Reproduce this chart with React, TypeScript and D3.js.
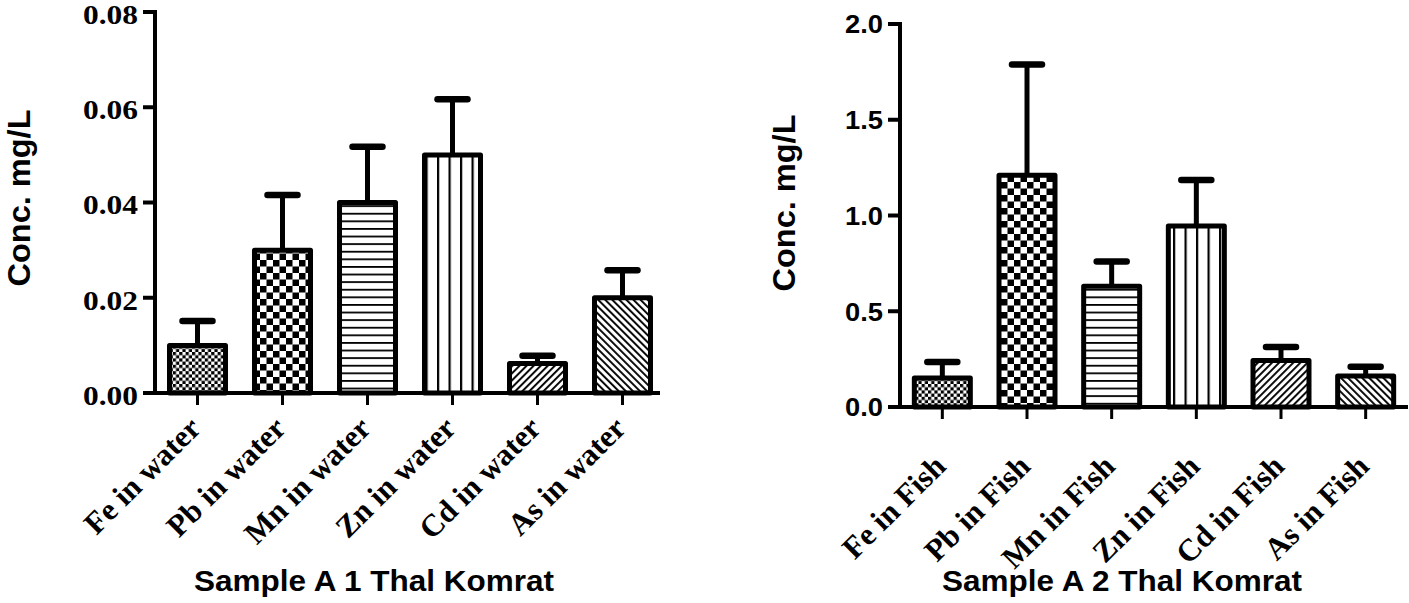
import React from "react";
import * as d3 from "d3";

const waterCategories = ["Fe in water", "Pb in water", "Mn in water", "Zn in water", "Cd in water", "As in water"];
const waterMeans = [0.01, 0.03, 0.04, 0.05, 0.0062, 0.02];
const waterErrors = [0.0051, 0.0116, 0.0117, 0.0117, 0.0016, 0.0058];
const waterTicks = [0, 0.02, 0.04, 0.06, 0.08];

const fishCategories = ["Fe in Fish", "Pb in Fish", "Mn in Fish", "Zn in Fish", "Cd in Fish", "As in Fish"];
const fishMeans = [0.152, 1.21, 0.63, 0.945, 0.243, 0.162];
const fishErrors = [0.083, 0.578, 0.13, 0.24, 0.07, 0.048];
const fishTicks = [0, 0.5, 1.0, 1.5, 2.0];

const patternIds = ["fineChecker", "bigChecker", "hLines", "vLines", "diagUp", "diagDown"];

const SERIF = "'Liberation Serif', 'Times New Roman', serif";
const SANS = "'Liberation Sans', Arial, sans-serif";

type PanelProps = {
  categories: string[];
  means: number[];
  errors: number[];
  ticks: number[];
  yMax: number;
  axisX: number;
  rangeEnd: number;
  axisEnd: number;
  yTop: number;
  yBottom: number;
  tickFormat: (v: number) => string;
  tickFont: string;
  tickFontSize: number;
  tickTextLength?: number;
  tickDy: string;
  labelY: number;
  yTitleX: number;
  yTitleY: number;
  title: string;
  titleX: number;
};

function Panel(p: PanelProps) {
  const x = d3.scaleBand<string>().domain(p.categories).range([p.axisX, p.rangeEnd]).paddingInner(0).paddingOuter(0);
  const y = d3.scaleLinear().domain([0, p.yMax]).range([p.yBottom, p.yTop]);
  const barW = 56;
  const tickLen = 12;
  return (
    <g>
      {p.categories.map((c, i) => {
        const cx = (x(c) as number) + x.bandwidth() / 2;
        const top = y(p.means[i]);
        const errTop = y(p.means[i] + p.errors[i]);
        return (
          <g key={c}>
            <line x1={cx} x2={cx} y1={top} y2={errTop} stroke="#000" strokeWidth={5} />
            <line x1={cx - 15} x2={cx + 15} y1={errTop} y2={errTop} stroke="#000" strokeWidth={6.5} strokeLinecap="round" />
            <rect
              x={cx - barW / 2}
              y={top}
              width={barW}
              height={y(0) - top}
              fill={`url(#${patternIds[i]})`}
              stroke="#000"
              strokeWidth={5}
              strokeLinejoin="round"
            />
            <line x1={cx} x2={cx} y1={p.yBottom} y2={p.yBottom + tickLen} stroke="#000" strokeWidth={3} />
            <text
              transform={`translate(${cx + 5},${p.labelY}) rotate(-45)`}
              textAnchor="end"
              fontFamily={SERIF}
              fontWeight="bold"
              fontSize={31}
            >
              {c}
            </text>
          </g>
        );
      })}
      <line x1={p.axisX} x2={p.axisX} y1={p.yTop - 2} y2={p.yBottom} stroke="#000" strokeWidth={4} />
      <line x1={p.axisX - tickLen} x2={p.axisEnd} y1={p.yBottom} y2={p.yBottom} stroke="#000" strokeWidth={4} />
      {p.ticks.map((t) => (
        <g key={t}>
          <line x1={p.axisX - tickLen} x2={p.axisX} y1={y(t)} y2={y(t)} stroke="#000" strokeWidth={4} />
          <text
            x={p.axisX - 17}
            y={y(t)}
            dy={p.tickDy}
            textAnchor="end"
            fontFamily={p.tickFont}
            fontWeight="bold"
            fontSize={p.tickFontSize}
            textLength={p.tickTextLength}
            lengthAdjust={p.tickTextLength ? "spacingAndGlyphs" : undefined}
          >
            {p.tickFormat(t)}
          </text>
        </g>
      ))}
      <text
        transform={`translate(${p.yTitleX},${p.yTitleY}) rotate(-90)`}
        textAnchor="middle"
        fontFamily={SANS}
        fontWeight="bold"
        fontSize={31}
        textLength={177}
        lengthAdjust="spacingAndGlyphs"
      >
        Conc. mg/L
      </text>
      <text
        x={p.titleX}
        y={591}
        textAnchor="middle"
        fontFamily={SANS}
        fontWeight="bold"
        fontSize={29}
        textLength={360}
        lengthAdjust="spacingAndGlyphs"
      >
        {p.title}
      </text>
    </g>
  );
}

export default function App() {
  return (
    <div style={{ position: "fixed", left: 0, top: 0 }}>
      <svg width={1409} height={603} viewBox="0 0 1409 603" style={{ display: "block", background: "#fff" }}>
        <defs>
          <pattern id="fineChecker" patternUnits="userSpaceOnUse" width={6.4} height={6.4}>
            <rect width={6.4} height={6.4} fill="#fff" />
            <rect width={3.2} height={3.2} fill="#000" />
            <rect x={3.2} y={3.2} width={3.2} height={3.2} fill="#000" />
          </pattern>
          <pattern id="bigChecker" patternUnits="userSpaceOnUse" width={13} height={13}>
            <rect width={13} height={13} fill="#fff" />
            <rect width={6.5} height={6.5} fill="#000" />
            <rect x={6.5} y={6.5} width={6.5} height={6.5} fill="#000" />
          </pattern>
          <pattern id="hLines" patternUnits="userSpaceOnUse" width={10} height={7.6}>
            <rect width={10} height={7.6} fill="#fff" />
            <rect width={10} height={1.8} fill="#000" />
          </pattern>
          <pattern id="vLines" patternUnits="userSpaceOnUse" width={11.5} height={10}>
            <rect width={11.5} height={10} fill="#fff" />
            <rect width={2.2} height={10} fill="#000" />
          </pattern>
          <pattern id="diagUp" patternUnits="userSpaceOnUse" width={5} height={10} patternTransform="rotate(45)">
            <rect width={5} height={10} fill="#fff" />
            <rect width={1.9} height={10} fill="#000" />
          </pattern>
          <pattern id="diagDown" patternUnits="userSpaceOnUse" width={5} height={10} patternTransform="rotate(-45)">
            <rect width={5} height={10} fill="#fff" />
            <rect width={1.9} height={10} fill="#000" />
          </pattern>
        </defs>
        <Panel
          categories={waterCategories}
          means={waterMeans}
          errors={waterErrors}
          ticks={waterTicks}
          yMax={0.08}
          axisX={155}
          rangeEnd={665}
          axisEnd={660}
          yTop={12}
          yBottom={393}
          tickFormat={d3.format(".2f")}
          tickFont={SERIF}
          tickFontSize={28}
          tickTextLength={55}
          tickDy="0.42em"
          labelY={430}
          yTitleX={30}
          yTitleY={198}
          title="Sample A 1 Thal Komrat"
          titleX={374}
        />
        <Panel
          categories={fishCategories}
          means={fishMeans}
          errors={fishErrors}
          ticks={fishTicks}
          yMax={2}
          axisX={900}
          rangeEnd={1408}
          axisEnd={1408}
          yTop={24}
          yBottom={407}
          tickFormat={d3.format(".1f")}
          tickFont={SANS}
          tickFontSize={26}
          tickTextLength={38}
          tickDy="0.36em"
          labelY={468}
          yTitleX={795}
          yTitleY={203}
          title="Sample A 2 Thal Komrat"
          titleX={1122}
        />
      </svg>
    </div>
  );
}
